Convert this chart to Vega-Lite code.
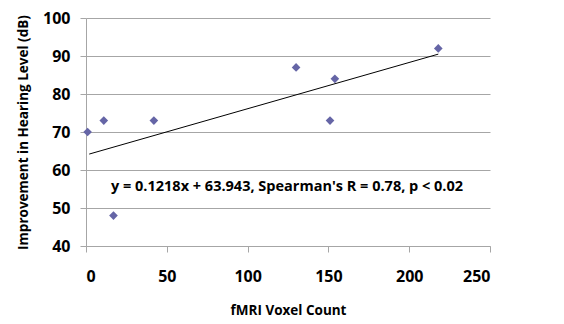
{
  "$schema": "https://vega.github.io/schema/vega-lite/v6.json",
  "width": 404,
  "height": 228,
  "autosize": "none",
  "padding": {"left": 86, "top": 18, "right": 74, "bottom": 78},
  "background": "white",
  "config": {"view": {"stroke": null}},
  "encoding": {
    "x": {"field": "voxels", "type": "quantitative", "scale": {"domain": [0, 250], "nice": false},
      "axis": {"title": "fMRI Voxel Count", "values": [0, 50, 100, 150, 200, 250], "grid": false, "labelOverlap": false,
        "domainColor": "#a6a6a6", "tickColor": "#a6a6a6", "tickSize": 6,
        "labelFont": "Open Sans", "labelFontSize": 16, "labelFontWeight": "bold", "labelColor": "#000", "labelPadding": 16,
        "titleFont": "Open Sans", "titleFontSize": 13.5, "titleFontWeight": "bold", "titleColor": "#000", "titlePadding": 19}},
    "y": {"field": "improvement", "type": "quantitative", "scale": {"domain": [40, 100], "nice": false},
      "axis": {"title": "Improvement in Hearing Level (dB)", "values": [40, 50, 60, 70, 80, 90, 100], "labelOverlap": false,
        "grid": true, "gridColor": "#a6a6a6", "domainColor": "#a6a6a6", "tickColor": "#a6a6a6", "tickSize": 6,
        "labelFont": "Open Sans", "labelFontSize": 16, "labelFontWeight": "bold", "labelColor": "#000", "labelPadding": 10,
        "titleFont": "Open Sans", "titleFontSize": 13.5, "titleFontWeight": "bold", "titleColor": "#000", "titlePadding": 12}}
  },
  "layer": [
    {
      "data": {"values": [
        {"voxels": 1, "improvement": 70},
        {"voxels": 11, "improvement": 73},
        {"voxels": 17, "improvement": 48},
        {"voxels": 42, "improvement": 73},
        {"voxels": 130, "improvement": 87},
        {"voxels": 151, "improvement": 73},
        {"voxels": 154, "improvement": 84},
        {"voxels": 218, "improvement": 92}
      ]},
      "mark": {"type": "point", "shape": "diamond", "filled": true, "size": 75, "color": "#6565a6", "opacity": 1}
    },
    {
      "data": {"values": [
        {"voxels": 2, "improvement": 64.19},
        {"voxels": 218, "improvement": 90.49}
      ]},
      "mark": {"type": "line", "color": "#000", "strokeWidth": 1}
    },
    {
      "data": {"values": [
        {"voxels": 124.4, "improvement": 55.4, "label": "y = 0.1218x + 63.943, Spearman's R = 0.78, p < 0.02"}
      ]},
      "mark": {"type": "text", "font": "Open Sans", "fontSize": 14.5, "fontWeight": "bold", "color": "#000", "align": "center", "baseline": "middle"},
      "encoding": {
        "text": {"field": "label"}
      }
    }
  ]
}
